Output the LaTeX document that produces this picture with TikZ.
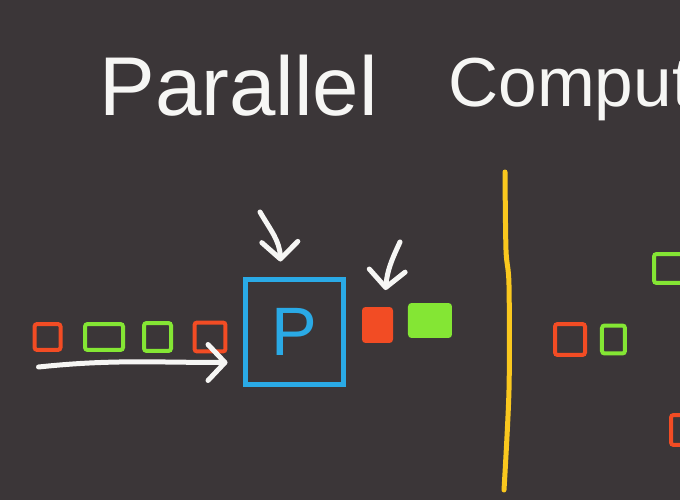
\documentclass[tikz,border=0pt]{standalone}
\usepackage{fontspec}
\setmainfont{Liberation Sans}
\usetikzlibrary{positioning, calc, arrows.meta}
\definecolor{board}{RGB}{59,54,56}
\definecolor{chalk}{RGB}{246,246,244}
\definecolor{itemred}{RGB}{242,76,36}
\definecolor{itemgreen}{RGB}{132,230,52}
\definecolor{procblue}{RGB}{42,170,230}
\definecolor{lineyellow}{RGB}{250,200,30}

\begin{document}
\begin{tikzpicture}[
        x=0.02cm, y=-0.02cm,
        slot/.style={draw, line width=0.08cm, rounded corners=1.5pt, inner sep=0pt, outer sep=0pt, minimum width=0.52cm, minimum height=0.52cm},
        done/.style={rounded corners=2pt, inner sep=0pt, outer sep=0pt},
        proc/.style={draw=procblue, line width=0.1cm, text=procblue, inner sep=0pt, outer sep=0pt, font=\fontsize{39}{40}\selectfont},
        hand/.style={draw=chalk, line width=0.1cm, line cap=round, -{Straight Barb[length=0.34cm, width=0.72cm, round]}},
        divider/.style={draw=lineyellow, line width=0.1cm, line cap=round},
        title/.style={text=chalk, inner sep=0pt, anchor=base west}
    ]
        \useasboundingbox (0,0) rectangle (680,500);
        \fill[board] (0,0) rectangle (680,500);
        \clip (0,0) rectangle (680,500);

        % Title
        \node[title, font=\fontsize{47.5}{50}\selectfont] (w1) at (99,116) {Parallel};
        \node[title, font=\fontsize{39.5}{42}\selectfont] (w2) at (448,107) {Comput};

        % Processor and its queue
        \node[proc, minimum width=1.96cm, minimum height=2.1cm] (P) at (294.5,332) {P};
        \node[slot, draw=itemred, minimum width=0.62cm, minimum height=0.58cm] (q4) at (210,337) {};
        \node[slot, draw=itemgreen, minimum width=0.54cm, minimum height=0.56cm, left=0.47cm of q4] (q3) {};
        \node[slot, draw=itemgreen, minimum width=0.76cm, left=0.42cm of q3] (q2) {};
        \node[slot, draw=itemred, left=0.49cm of q2] (q1) {};

        % Finished items
        \node[done, fill=itemred, minimum width=0.62cm, minimum height=0.72cm] (out1) at (377.5,325) {};
        \node[done, fill=itemgreen, minimum width=0.88cm, minimum height=0.7cm, right=0.3cm of out1, yshift=0.09cm] (out2) {};

        % Hand-drawn arrows
        \coordinate (cue1) at (260,212);
        \coordinate (cue2) at (400,242);
        \draw[hand] (cue1) to[out=-60, in=92] ($(P.north)+(-14,-18)$);
        \draw[hand] (cue2) to[out=-115, in=85] ($(out1.north)+(8,-17)$);
        \draw[hand] ($(q1.south west)+(4,17)$) to[out=6, in=180] ($(q4.south east)+(2,11)$);

        % Divider
        \draw[divider] plot[smooth] coordinates {(505,172) (506,250) (509,285) (509,390) (504,490)};

        % Right half
        \node[slot, draw=itemred, minimum width=0.6cm, minimum height=0.62cm] (r1) at (570,339.5) {};
        \node[slot, draw=itemgreen, minimum width=0.46cm, minimum height=0.56cm, right=0.34cm of r1] (r2) {};
        \node[slot, draw=itemgreen, minimum width=0.92cm, minimum height=0.58cm] (r3) at (677,268.5) {};
        \node[slot, draw=itemred, minimum width=0.8cm, minimum height=0.6cm] (r4) at (691,430) {};
    \end{tikzpicture}
\end{document}
